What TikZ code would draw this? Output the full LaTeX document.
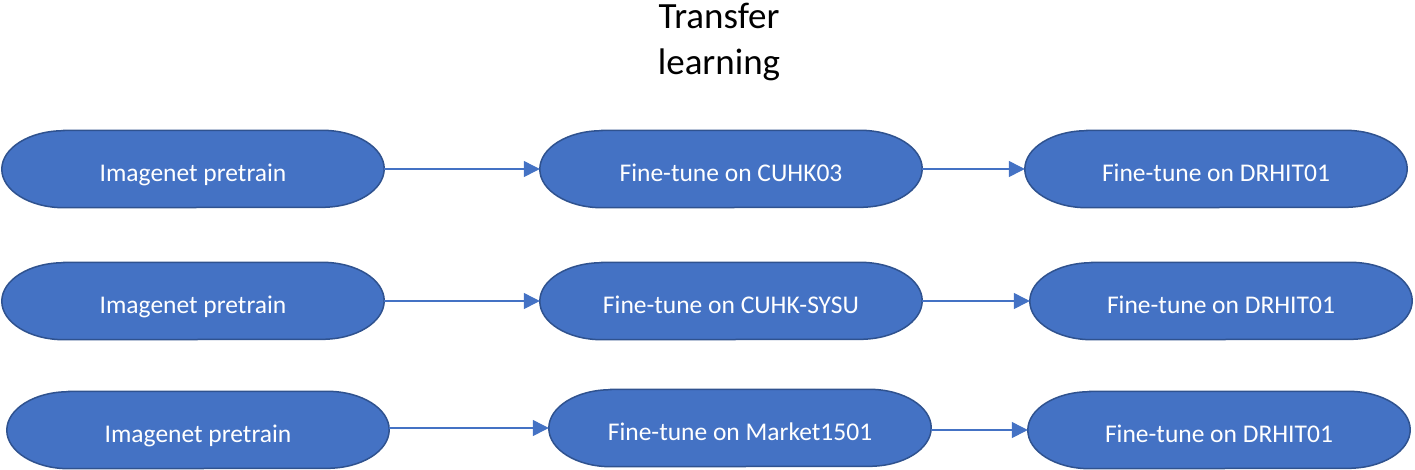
\documentclass[tikz,border=0pt]{standalone}
\usepackage{fontspec}
\setmainfont{Carlito}
\usetikzlibrary{arrows.meta,backgrounds,calc}
\definecolor{officeblue}{HTML}{4472C4}
\definecolor{officeedge}{HTML}{2F528F}
\tikzset{
  term/.style={minimum width=382pt,minimum height=77pt,inner sep=0pt,text=white,
    text height=24pt,text depth=0pt,font=\fontsize{25.5}{30}\selectfont},
  termshape/.style={fill=officeblue,draw=officeedge,line width=1.5pt},
  link/.style={draw=officeblue,line width=1.2pt,-{Triangle[length=16pt,width=16pt]}},
  title/.style={align=center,font=\fontsize{37}{46}\selectfont,text=black}
}
\newcommand{\termpath}[1]{%
  \filldraw[termshape] ($(#1.north west)+(62pt,0)$) -- ($(#1.north east)+(-62pt,0)$)
    arc[start angle=90,end angle=-90,x radius=62pt,y radius=38.5pt]
    -- ($(#1.south west)+(62pt,0)$)
    arc[start angle=270,end angle=90,x radius=62pt,y radius=38.5pt] -- cycle;}
\begin{document}
\begin{tikzpicture}[x=1pt,y=-1pt]
\useasboundingbox (0,0) rectangle (1415,469);
\node[title] (T) at (719,42) {Transfer\\learning};
% row 1
\node[term] (A1) at (193,169) {Imagenet pretrain};
\node[term] (B1) at (731,169) {Fine-tune on CUHK03};
\node[term] (C1) at (1216,169) {Fine-tune on DRHIT01};
% row 2
\node[term] (A2) at (193,301) {Imagenet pretrain};
\node[term] (B2) at (731,301) {Fine-tune on CUHK-SYSU};
\node[term] (C2) at (1221,301) {Fine-tune on DRHIT01};
% row 3
\node[term] (A3) at (198,430) {Imagenet pretrain};
\node[term] (B3) at (740,428) {Fine-tune on Market1501};
\node[term] (C3) at (1219,430) {Fine-tune on DRHIT01};
\begin{scope}[on background layer]
\foreach \n in {A1,B1,C1,A2,B2,C2,A3,B3,C3} {\termpath{\n}}
\end{scope}
\draw[link] (A1.east) -- (B1.west);
\draw[link] (B1.east) -- (C1.west);
\draw[link] (A2.east) -- (B2.west);
\draw[link] (B2.east) -- (C2.west);
\draw[link] (A3.east |- B3.west) -- (B3.west);
\draw[link] (B3.east |- C3.west) -- (C3.west);
\end{tikzpicture}
\end{document}
